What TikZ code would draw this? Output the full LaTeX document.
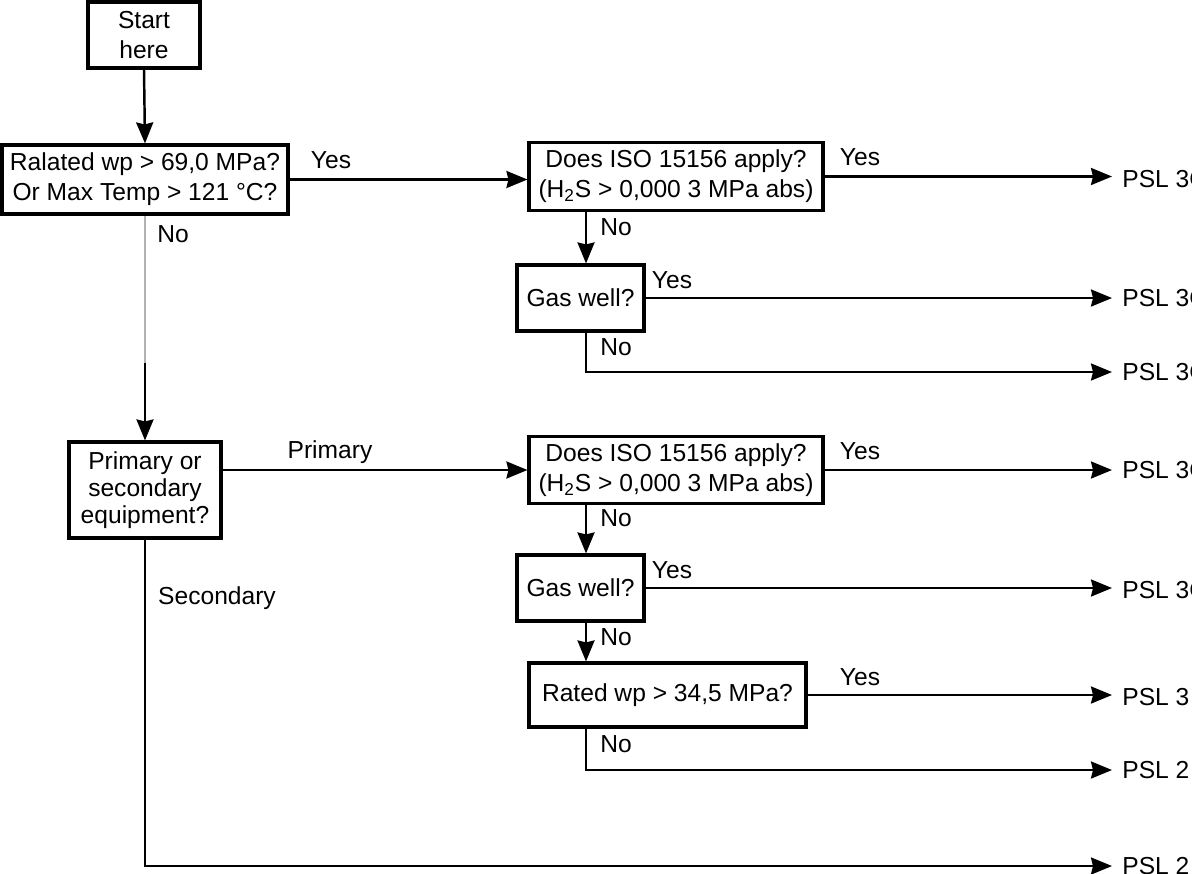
\documentclass[tikz,border=0pt]{standalone}
\usepackage{fontspec}
\setmainfont{Liberation Sans}
\usetikzlibrary{arrows.meta, positioning, calc}

\begin{document}
\begin{tikzpicture}[
    x=0.02cm, y=-0.02cm,
    >={Stealth[length=0.42cm, width=0.34cm, inset=0.04cm]},
    qbox/.style={
        rectangle, draw, line width=1.8pt, align=center,
        font=\fontsize{14}{17}\selectfont, inner sep=2pt
    },
    arr/.style={draw, line width=1.4pt, ->},
    line/.style={draw, line width=1.4pt},
    lbl/.style={font=\fontsize{14}{17}\selectfont, inner sep=0pt},
    psl/.style={lbl, anchor=west, inner xsep=0.2cm},
]
\clip (0,0) rectangle (1192,873);

% ================================================================
%  LEFT COLUMN
% ================================================================
\node[qbox, minimum width=2.24cm, minimum height=1.32cm] (start) at (144, 35) {Start\\here};
\node[qbox, minimum width=5.72cm, minimum height=1.38cm] (q1) at (145, 179.5)
    {Ralated wp > 69,0 MPa?\\Or Max Temp > 121 °C?};
\node[qbox, minimum width=3.04cm, minimum height=1.92cm,
      font=\fontsize{14}{15.5}\selectfont] (prim) at (145, 490)
    {Primary or\\secondary\\equipment?};

\coordinate (nbend) at (145, 363);
\coordinate (stem) at (586, 0);

% ================================================================
%  RIGHT COLUMN
% ================================================================
\node[qbox, minimum width=5.88cm, minimum height=1.35cm] (iso1) at (676, 176.5)
    {Does ISO 15156 apply?\\(H\textsubscript{2}S > 0,000 3 MPa abs)};
\node[qbox, minimum width=2.54cm, minimum height=1.32cm] (gas1) at (580.5, 298) {Gas well?};

\node[qbox, minimum width=5.88cm, minimum height=1.35cm] (iso2) at (676, 470)
    {Does ISO 15156 apply?\\(H\textsubscript{2}S > 0,000 3 MPa abs)};
\node[qbox, minimum width=2.54cm, minimum height=1.32cm] (gas2) at (580.5, 588) {Gas well?};
\node[qbox, minimum width=5.54cm, minimum height=1.28cm] (rated) at (667.5, 695) {Rated wp > 34,5 MPa?};

% --- results ---
\node[psl] (psl1) at (1112, 179) {PSL 3G};
\node[psl] (psl2) at (1112, 298) {PSL 3G};
\node[psl] (psl3) at (1112, 372) {PSL 3G};
\node[psl] (psl4) at (1112, 470) {PSL 3G};
\node[psl] (psl5) at (1112, 590) {PSL 3G};
\node[psl] (psl6) at (1112, 697) {PSL 3};
\node[psl] (psl7) at (1112, 770) {PSL 2};
\node[psl] (psl8) at (1112, 866) {PSL 2};

% ================================================================
%  CONNECTORS
% ================================================================
\draw[arr] (start.south) -- (q1.north);
\draw[arr] (q1.east) -- (q1.east -| iso1.west);
\node[lbl] at (331, 160) {Yes};
\draw[line, gray!60] (q1.south) -- (nbend);
\draw[arr] (nbend) -- (prim.north);
\node[lbl] at (173, 234) {No};

% upper branch
\draw[arr] (iso1.east) -- (iso1.east -| psl1.west);
\node[lbl] at (860, 157) {Yes};
\draw[arr] (iso1.south -| stem) -- (gas1.north -| stem);
\node[lbl] at (616, 227) {No};
\draw[arr] (gas1.east) -- (gas1.east -| psl2.west);
\node[lbl] at (672, 280) {Yes};
\draw[arr] (gas1.south -| stem) |- (psl3.west);
\node[lbl] at (616, 347) {No};

% primary branch
\draw[arr] (prim.east |- iso2.west) -- (iso2.west);
\node[lbl] at (330, 452) {Primary};
\draw[arr] (iso2.east) -- (iso2.east -| psl4.west);
\node[lbl] at (860, 451) {Yes};
\draw[arr] (iso2.south -| stem) -- (gas2.north -| stem);
\node[lbl] at (616, 518) {No};
\draw[arr] (gas2.east) -- (gas2.east -| psl5.west);
\node[lbl] at (672, 570) {Yes};
\draw[arr] (gas2.south -| stem) -- (rated.north -| stem);
\node[lbl] at (616, 637) {No};
\draw[arr] (rated.east) -- (rated.east -| psl6.west);
\node[lbl] at (860, 677) {Yes};
\draw[arr] (rated.south -| stem) |- (psl7.west);
\node[lbl] at (616, 744) {No};

% secondary branch
\draw[arr] (prim.south) |- (psl8.west);
\node[lbl] at (217, 598) {Secondary};

\end{tikzpicture}
\end{document}
